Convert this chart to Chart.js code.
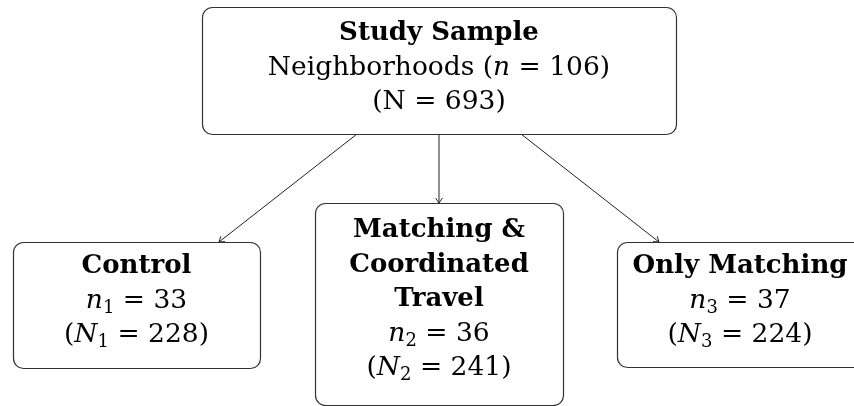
<!DOCTYPE html>
<html>
<head>
<meta charset="utf-8">
<script src="https://cdn.jsdelivr.net/npm/chart.js@4"></script>
<style>
html,body{margin:0;padding:0;background:#fff;}
#wrap{width:854px;height:406px;}
</style>
</head>
<body>
<div id="wrap"><canvas id="c" width="854" height="406"></canvas></div>
<script>
// ---- data ----
const groupNames = ['Study Sample', 'Control', 'Matching & Coordinated Travel', 'Only Matching'];
const neighborhoods = [106, 33, 36, 37];   // n
const participants = [693, 228, 241, 224]; // N
const edges = [[0, 1], [0, 2], [0, 3]];

// ---- layout (positions / styles only) ----
const boxes = [
  {x0: 202, y0: 7, x1: 676, y1: 134, title: ['Study Sample'], top: 40},
  {x0: 13, y0: 242, x1: 260, y1: 368, title: ['Control'], top: 273},
  {x0: 315, y0: 203, x1: 563, y1: 405, title: ['Matching &', 'Coordinated', 'Travel'], top: 237},
  {x0: 617, y0: 242, x1: 863, y1: 367, title: ['Only Matching'], top: 273}
];
const arrowFrom = [[357, 134], [439, 134], [521, 134]];
const arrowTo = [[219, 242], [439, 203], [659, 242]];
const LINE = 34.5;
const FONT = '"DejaVu Serif", serif';

function linesFor(i) {
  const b = boxes[i];
  const out = b.title.map(t => [{t: t, b: true}]);
  const eq = ' = ';
  if (i === 0) {
    out.push([{t: 'Neighborhoods ('}, {t: 'n', i: true}, {t: eq + neighborhoods[i] + ')'}]);
    out.push([{t: '(N' + eq + participants[i] + ')'}]);
  } else {
    out.push([{t: 'n', i: true}, {t: String(i), sub: true}, {t: eq + neighborhoods[i]}]);
    out.push([{t: '('}, {t: 'N', i: true}, {t: String(i), sub: true}, {t: eq + participants[i] + ')'}]);
  }
  return out;
}

function fontFor(r) {
  const size = r.sub ? 18 : (r.b ? 26 : 26.5);
  return (r.i ? 'italic ' : '') + (r.b ? 'bold ' : '') + size + 'px ' + FONT;
}

function drawRuns(ctx, runs, cx, y) {
  let w = 0;
  runs.forEach(r => { ctx.font = fontFor(r); r.w = ctx.measureText(r.t).width; w += r.w; });
  let x = cx - w / 2;
  runs.forEach(r => {
    ctx.font = fontFor(r);
    ctx.fillText(r.t, x, y + (r.sub ? 5 : 0));
    x += r.w;
  });
}

function roundRect(ctx, x0, y0, x1, y1, r) {
  ctx.beginPath();
  ctx.moveTo(x0 + r, y0);
  ctx.lineTo(x1 - r, y0);
  ctx.arcTo(x1, y0, x1, y0 + r, r);
  ctx.lineTo(x1, y1 - r);
  ctx.arcTo(x1, y1, x1 - r, y1, r);
  ctx.lineTo(x0 + r, y1);
  ctx.arcTo(x0, y1, x0, y1 - r, r);
  ctx.lineTo(x0, y0 + r);
  ctx.arcTo(x0, y0, x0 + r, y0, r);
  ctx.closePath();
}

const flowPlugin = {
  id: 'flow',
  afterDatasetsDraw(chart) {
    const ctx = chart.ctx;
    const xs = chart.scales.x, ys = chart.scales.y;
    const px = v => xs.getPixelForValue(v), py = v => ys.getPixelForValue(v);
    ctx.save();
    // arrows
    ctx.strokeStyle = '#222';
    ctx.lineWidth = 1;
    edges.forEach((e, k) => {
      const x0 = px(arrowFrom[k][0]), y0 = py(arrowFrom[k][1]);
      const x1 = px(arrowTo[k][0]), y1 = py(arrowTo[k][1]);
      ctx.beginPath(); ctx.moveTo(x0, y0); ctx.lineTo(x1, y1); ctx.stroke();
      const a = Math.atan2(y1 - y0, x1 - x0);
      const L = 6, s = 0.6;
      ctx.beginPath();
      ctx.moveTo(x1 - L * Math.cos(a - s), y1 - L * Math.sin(a - s));
      ctx.lineTo(x1, y1);
      ctx.lineTo(x1 - L * Math.cos(a + s), y1 - L * Math.sin(a + s));
      ctx.stroke();
    });
    // boxes
    boxes.forEach((b, i) => {
      const x0 = px(b.x0), x1 = px(b.x1), y0 = py(b.y0), y1 = py(b.y1);
      roundRect(ctx, x0 + 0.5, y0 + 0.5, x1 + 0.5, y1 + 0.5, 10);
      ctx.fillStyle = '#fff';
      ctx.fill();
      ctx.strokeStyle = '#333';
      ctx.lineWidth = 1.2;
      ctx.stroke();
      ctx.fillStyle = '#000';
      ctx.textBaseline = 'alphabetic';
      const cx = (x0 + x1) / 2;
      linesFor(i).forEach((runs, j) => drawRuns(ctx, runs, cx, py(b.top + j * LINE)));
    });
    ctx.restore();
  }
};

new Chart(document.getElementById('c'), {
  type: 'scatter',
  data: {
    datasets: [{
      data: boxes.map((b, i) => ({x: (b.x0 + b.x1) / 2, y: (b.y0 + b.y1) / 2, n: neighborhoods[i]})),
      pointRadius: 0
    }]
  },
  options: {
    responsive: false,
    animation: false,
    layout: {padding: 0},
    plugins: {legend: {display: false}, tooltip: {enabled: false}},
    scales: {
      x: {type: 'linear', min: 0, max: 854, display: false},
      y: {type: 'linear', min: 0, max: 406, reverse: true, display: false}
    }
  },
  plugins: [flowPlugin]
});
</script>
</body>
</html>
